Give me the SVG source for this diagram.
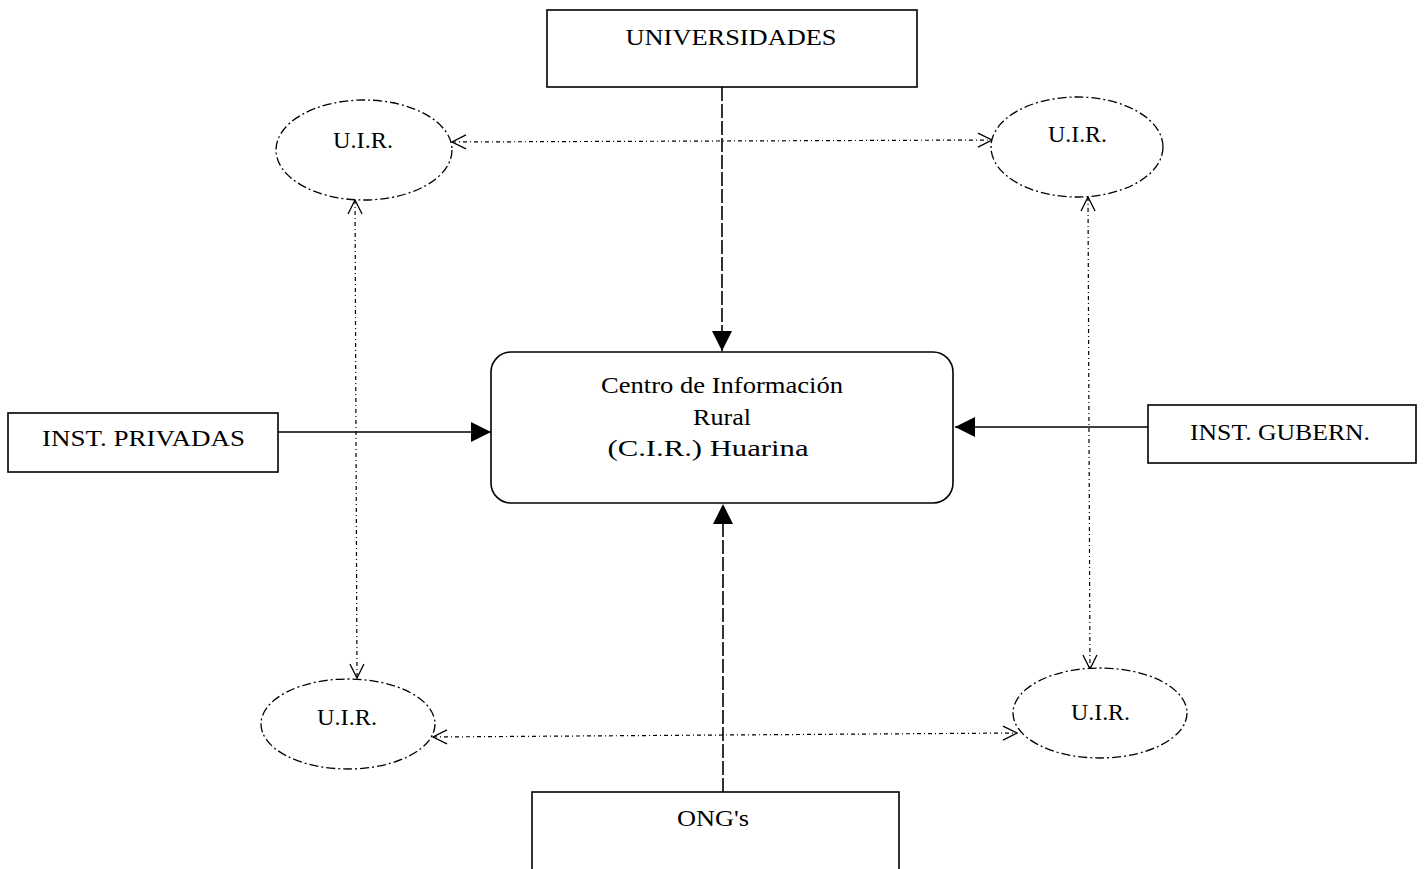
<svg xmlns="http://www.w3.org/2000/svg" width="1425" height="869" viewBox="0 0 1425 869">
<style>
.box{fill:#fff;stroke:#000;stroke-width:1.6}
.ell{fill:#fff;stroke:#000;stroke-width:1.3;stroke-dasharray:9 3 2 3}
.t{font-family:"Liberation Serif","Times New Roman",serif;font-size:24px;fill:#000}
.solid{stroke:#000;stroke-width:1.6;fill:none}
.dash{stroke:#000;stroke-width:1.6;fill:none;stroke-dasharray:14 3}
.dot{stroke:#000;stroke-width:1.2;fill:none;stroke-dasharray:4 3 1 3}
</style>
<defs>
<marker id="fill" viewBox="0 0 20 20" refX="20" refY="10" markerWidth="20" markerHeight="20" markerUnits="userSpaceOnUse" orient="auto">
<path d="M0,0 L20,10 L0,20 Z" fill="#000"/>
</marker>
<marker id="open" viewBox="0 0 16 16" refX="15" refY="8" markerWidth="16" markerHeight="16" markerUnits="userSpaceOnUse" orient="auto-start-reverse">
<path d="M1,1 L15,8 L1,15" fill="none" stroke="#000" stroke-width="1.3"/>
</marker>
</defs>
<rect width="1425" height="869" fill="#fff"/>
<g id="connectors">
<line class="dash" x1="722" y1="87" x2="722" y2="351" marker-end="url(#fill)"/>
<line class="dash" x1="723" y1="792" x2="723" y2="504" marker-end="url(#fill)"/>
<line class="solid" x1="278" y1="432" x2="491" y2="432" marker-end="url(#fill)"/>
<line class="solid" x1="1148" y1="427" x2="955" y2="427" marker-end="url(#fill)"/>
<line class="dot" x1="452" y1="142" x2="992" y2="140" marker-start="url(#open)" marker-end="url(#open)"/>
<line class="dot" x1="433" y1="737" x2="1017" y2="733" marker-start="url(#open)" marker-end="url(#open)"/>
<line class="dot" x1="355" y1="200" x2="357" y2="678" marker-start="url(#open)" marker-end="url(#open)"/>
<line class="dot" x1="1088" y1="197" x2="1090" y2="669" marker-start="url(#open)" marker-end="url(#open)"/>
</g>
<g id="universidades">
<rect class="box" x="547" y="10" width="370" height="77"/>
<text class="t" x="731" y="45" text-anchor="middle" textLength="211" lengthAdjust="spacingAndGlyphs">UNIVERSIDADES</text>
</g>
<g id="uir-tl">
<ellipse class="ell" cx="364" cy="150" rx="88" ry="50"/>
<text class="t" x="333" y="148" textLength="60" lengthAdjust="spacingAndGlyphs">U.I.R.</text>
</g>
<g id="uir-tr">
<ellipse class="ell" cx="1077" cy="147" rx="86" ry="50"/>
<text class="t" x="1048" y="142" textLength="59" lengthAdjust="spacingAndGlyphs">U.I.R.</text>
</g>
<g id="cir">
<rect class="box" x="491" y="352" width="462" height="151" rx="20" ry="20"/>
<text class="t" x="722" y="393" text-anchor="middle" textLength="242" lengthAdjust="spacingAndGlyphs">Centro de Información</text>
<text class="t" x="722" y="425" text-anchor="middle" textLength="58" lengthAdjust="spacingAndGlyphs">Rural</text>
<text class="t" x="708" y="456" text-anchor="middle" textLength="201" lengthAdjust="spacingAndGlyphs">(C.I.R.) Huarina</text>
</g>
<g id="privadas">
<rect class="box" x="8" y="413" width="270" height="59"/>
<text class="t" x="42" y="446" textLength="203" lengthAdjust="spacingAndGlyphs">INST. PRIVADAS</text>
</g>
<g id="gubern">
<rect class="box" x="1148" y="405" width="268" height="58"/>
<text class="t" x="1190" y="440" textLength="180" lengthAdjust="spacingAndGlyphs">INST. GUBERN.</text>
</g>
<g id="uir-bl">
<ellipse class="ell" cx="348" cy="724" rx="87" ry="45"/>
<text class="t" x="317" y="725" textLength="60" lengthAdjust="spacingAndGlyphs">U.I.R.</text>
</g>
<g id="uir-br">
<ellipse class="ell" cx="1100" cy="713" rx="87" ry="45"/>
<text class="t" x="1071" y="720" textLength="59" lengthAdjust="spacingAndGlyphs">U.I.R.</text>
</g>
<g id="ongs">
<rect class="box" x="532" y="792" width="367" height="90"/>
<text class="t" x="677" y="826" textLength="72" lengthAdjust="spacingAndGlyphs">ONG's</text>
</g>
</svg>
